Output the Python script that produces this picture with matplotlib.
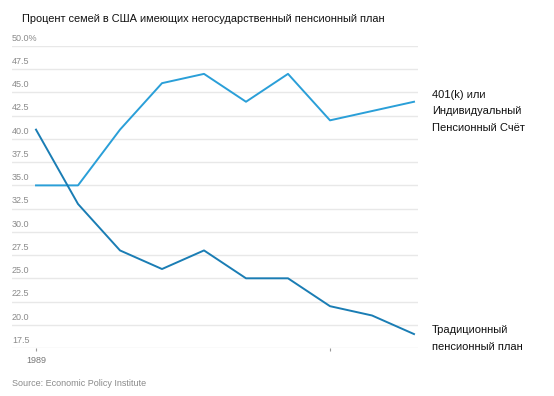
import numpy as np
import matplotlib.pyplot as plt

years = [1989, 1992, 1995, 1998, 2001, 2004, 2007, 2010, 2013, 2016]
plan_401k = [35, 35, 41, 46, 47, 44, 47, 42, 43, 44]
traditional = [41, 33, 28, 26, 28, 25, 25, 22, 21, 19]
y_ticks = [17.5, 20.0, 22.5, 25.0, 27.5, 30.0, 32.5, 35.0, 37.5, 40.0, 42.5, 45.0, 47.5, 50.0]
y_labels = [f"{v:.1f}" for v in y_ticks[:-1]] + ["50.0%"]

title = "Процент семей в США имеющих негосударственный пенсионный план"
label_401k = "401(k) или\nИндивидуальный\nПенсионный Счёт"
label_trad = "Традиционный\nпенсионный план"
source = "Source: Economic Policy Institute"

plt.rcParams['font.family'] = ['Liberation Sans', 'DejaVu Sans']

W, H = 554, 396
fig = plt.figure(figsize=(W / 100, H / 100), dpi=100)
ax = fig.add_axes([12 / W, 1 - 348 / H, (418 - 12) / W, (348 - 46) / H])

x0 = 1989 - 24 / 14
x1 = 2016 + 4 / 14
ax.set_xlim(x0, x1)
ax.set_ylim(17.5, 50)

for v in y_ticks:
    ax.axhline(v, color='#e8e8e8', lw=1, zorder=1)
for v, lab in zip(y_ticks, y_labels):
    ax.text(x0, v + 0.35, lab, fontsize=6.5, color='#8a8a8a', ha='left', va='bottom')

ax.plot(years, plan_401k, color='#2a9fd8', lw=1.4, zorder=3)
ax.plot(years, traditional, color='#1a7db4', lw=1.4, zorder=3)

for s in ax.spines.values():
    s.set_visible(False)
ax.set_yticks([])
ax.set_xticks([1989, 2010])
ax.set_xticklabels(['1989', ''])
ax.tick_params(axis='x', length=2, width=0.8, color='#999999', pad=4,
               labelsize=6.5, labelcolor='#777777')

fig.text(22 / W, 1 - 19 / H, title, fontsize=7.9, color='#111111', va='center', ha='left')
fig.text(432 / W, 1 - 111.5 / H, label_401k, fontsize=8, color='#111111',
         va='center', ha='left', linespacing=1.8)
fig.text(432 / W, 1 - 338.5 / H, label_trad, fontsize=8, color='#111111',
         va='center', ha='left', linespacing=1.8)
fig.text(12 / W, 1 - 384 / H, source, fontsize=6.5, color='#8a8a8a', va='center', ha='left')

fig.savefig('out.png', dpi=100)
